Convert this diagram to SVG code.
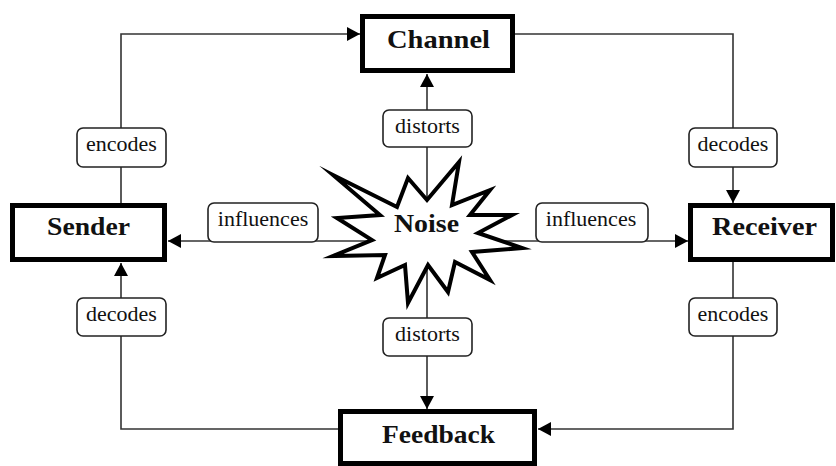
<svg xmlns="http://www.w3.org/2000/svg" width="836" height="466" viewBox="0 0 836 466">
<style>
.box{fill:#fff;stroke:#000;stroke-width:5}
.lbl{fill:#fff;stroke:#222;stroke-width:1.6}
.ln{fill:none;stroke:#333;stroke-width:1.6}
.t{font-family:"Liberation Serif","DejaVu Serif","Times New Roman",serif;font-size:25px;font-weight:bold;fill:#111;text-anchor:middle}
.lt{font-family:"Liberation Serif","Times New Roman",serif;font-size:22px;fill:#111;text-anchor:middle}
</style>
<defs>
<marker id="ah" markerUnits="userSpaceOnUse" markerWidth="14" markerHeight="14" refX="13" refY="7" orient="auto">
<path d="M0,0 L13,7 L0,14 z" fill="#000"/>
</marker>
</defs>
<rect width="836" height="466" fill="#fff"/>
<g id="connectors">
<path class="ln" d="M121,204 V34 H360" marker-end="url(#ah)"/>
<path class="ln" d="M515,34 H733 V203" marker-end="url(#ah)"/>
<path class="ln" d="M733,262 V429 H538" marker-end="url(#ah)"/>
<path class="ln" d="M338,429 H121 V263" marker-end="url(#ah)"/>
<path class="ln" d="M427,210 V74" marker-end="url(#ah)"/>
<path class="ln" d="M427,250 V409" marker-end="url(#ah)"/>
<path class="ln" d="M400,241 H168" marker-end="url(#ah)"/>
<path class="ln" d="M460,241 H688" marker-end="url(#ah)"/>
</g>
<g id="labels">
<g id="lbl-encodes-left"><rect class="lbl" x="77" y="128" width="89" height="39" rx="6"/><text class="lt" x="121.5" y="151">encodes</text></g>
<g id="lbl-decodes-right"><rect class="lbl" x="689" y="128" width="88" height="39" rx="6"/><text class="lt" x="733" y="151">decodes</text></g>
<g id="lbl-decodes-left"><rect class="lbl" x="77" y="298" width="89" height="38" rx="6"/><text class="lt" x="121.5" y="321">decodes</text></g>
<g id="lbl-encodes-right"><rect class="lbl" x="689" y="298" width="88" height="38" rx="6"/><text class="lt" x="733" y="321">encodes</text></g>
<g id="lbl-distorts-top"><rect class="lbl" x="383" y="110" width="89" height="37" rx="6"/><text class="lt" x="427.5" y="133">distorts</text></g>
<g id="lbl-distorts-bottom"><rect class="lbl" x="383" y="318" width="89" height="38" rx="6"/><text class="lt" x="427.5" y="341">distorts</text></g>
<g id="lbl-influences-left"><rect class="lbl" x="208" y="203" width="110" height="39" rx="6"/><text class="lt" x="263" y="226">influences</text></g>
<g id="lbl-influences-right"><rect class="lbl" x="536" y="203" width="112" height="39" rx="6"/><text class="lt" x="591" y="226">influences</text></g>
</g>
<g id="channel"><rect class="box" x="362.5" y="16.5" width="150" height="54"/><text class="t" x="438.5" y="48" textLength="103" lengthAdjust="spacingAndGlyphs">Channel</text></g>
<g id="sender"><rect class="box" x="12.5" y="205.5" width="152" height="54"/><text class="t" x="88.5" y="235" textLength="83" lengthAdjust="spacingAndGlyphs">Sender</text></g>
<g id="receiver"><rect class="box" x="690.5" y="205.5" width="142" height="54"/><text class="t" x="764.5" y="235" textLength="105" lengthAdjust="spacingAndGlyphs">Receiver</text></g>
<g id="feedback"><rect class="box" x="340.5" y="411.5" width="194" height="52"/><text class="t" x="438.5" y="443" textLength="113" lengthAdjust="spacingAndGlyphs">Feedback</text></g>
<g id="noise">
<polygon fill="#fff" stroke="#000" stroke-width="4" stroke-linejoin="miter" stroke-miterlimit="10" points="333,175 397,207 408,178 427,200 459,162 452,205 490,190 470,215 512,215 478,233 522,248 472,252 490,280 455,262 448,292 428,265 408,303 405,265 377,278 385,255 333,256 372,240 337,218 380,215"/>
<text class="t" x="426.5" y="232" font-size="26" textLength="65" lengthAdjust="spacingAndGlyphs">Noise</text>
</g>
</svg>
